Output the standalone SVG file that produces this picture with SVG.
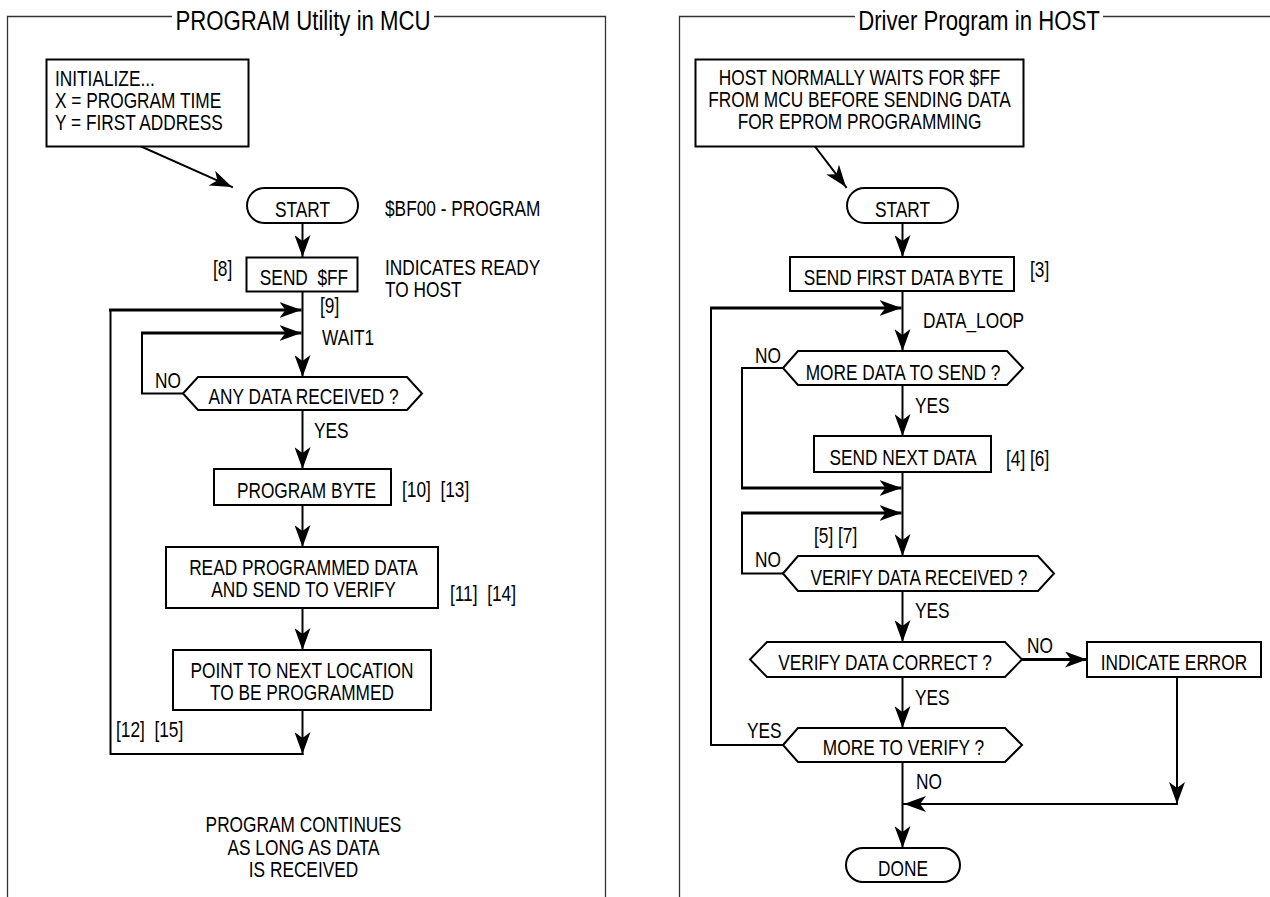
<svg xmlns="http://www.w3.org/2000/svg" width="1270" height="897" viewBox="0 0 1270 897">
<style>
text{font-family:"Liberation Sans",Arial,sans-serif;font-size:22px;fill:#000}
.t{font-size:28px;text-anchor:middle}
.c{text-anchor:middle}
.frame{fill:none;stroke:#333;stroke-width:1.3}
.box{fill:#fff;stroke:#000;stroke-width:2}
.ln{fill:none;stroke:#000;stroke-width:2;stroke-linecap:square}
.thk{stroke-width:3;stroke-linecap:butt}
</style>
<defs>
<marker id="ah" viewBox="0 0 22 16" refX="22" refY="8" markerWidth="22" markerHeight="16" markerUnits="userSpaceOnUse" orient="auto">
<path d="M22,8 L0,0 L6,8 L0,16 Z" fill="#000"/>
</marker>
</defs>
<rect width="1270" height="897" fill="#fff"/>

<g id="frame-left">
<path class="frame" d="M7.5,897 V16.5 H172 M434,16.5 H605.5 V897"/>
<text class="t" transform="translate(303,30) scale(.793,1)">PROGRAM Utility in MCU</text>
</g>
<g id="frame-right">
<path class="frame" d="M679.5,897 V16.5 H855 M1103,16.5 H1270"/>
<text class="t" transform="translate(979,30) scale(.793,1)">Driver Program in HOST</text>
</g>

<g id="connectors">
<path class="ln" d="M141,146.5 L232,187" marker-end="url(#ah)"/>
<path class="ln" d="M302.5,223 V257" marker-end="url(#ah)"/>
<path class="ln" d="M302.5,291 V377" marker-end="url(#ah)"/>
<path class="ln" d="M302.5,754 H110.5 V310"/>
<path class="ln thk" d="M109,310 H301.5" marker-end="url(#ah)"/>
<path class="ln" d="M183,393.5 H142 V333"/>
<path class="ln thk" d="M141,333 H301.5" marker-end="url(#ah)"/>
<path class="ln" d="M302.5,410 V469" marker-end="url(#ah)"/>
<path class="ln" d="M302.5,505 V547" marker-end="url(#ah)"/>
<path class="ln" d="M302.5,608 V650" marker-end="url(#ah)"/>
<path class="ln" d="M302.5,710 V754" marker-end="url(#ah)"/>

<path class="ln" d="M815,146.5 L846,187" marker-end="url(#ah)"/>
<path class="ln" d="M902.5,223 V257" marker-end="url(#ah)"/>
<path class="ln" d="M902.5,291 V351" marker-end="url(#ah)"/>
<path class="ln" d="M783,745 H711 V308"/>
<path class="ln thk" d="M710,308 H901.5" marker-end="url(#ah)"/>
<path class="ln" d="M783,368 H742 V488"/>
<path class="ln thk" d="M741,488 H901.5" marker-end="url(#ah)"/>
<path class="ln" d="M902.5,385 V436" marker-end="url(#ah)"/>
<path class="ln" d="M902.5,472 V556" marker-end="url(#ah)"/>
<path class="ln" d="M783,573.5 H742 V513"/>
<path class="ln thk" d="M741,513 H901.5" marker-end="url(#ah)"/>
<path class="ln" d="M902.5,591 V642" marker-end="url(#ah)"/>
<path class="ln thk" d="M1022,659.5 H1087" marker-end="url(#ah)"/>
<path class="ln" d="M902.5,677 V728" marker-end="url(#ah)"/>
<path class="ln" d="M902.5,762 V848" marker-end="url(#ah)"/>
<path class="ln" d="M1177,677 V804" marker-end="url(#ah)"/>
<path class="ln" d="M1177,804 H904" marker-end="url(#ah)"/>
</g>

<g id="l-init">
<rect class="box" x="46.5" y="59.5" width="202" height="87"/>
<text transform="translate(55,86) scale(.786,1)">INITIALIZE...</text>
<text transform="translate(55,108) scale(.786,1)">X = PROGRAM TIME</text>
<text transform="translate(55,130) scale(.786,1)">Y = FIRST ADDRESS</text>
</g>
<g id="l-start">
<rect class="box" x="247" y="188" width="111" height="35" rx="17.5"/>
<text class="c" transform="translate(302.5,217) scale(.786,1)">START</text>
<text transform="translate(385,216) scale(.786,1)">$BF00 - PROGRAM</text>
</g>
<g id="l-sendff">
<rect class="box" x="246.5" y="257.5" width="111" height="34"/>
<text class="c" transform="translate(304,285) scale(.786,1)" xml:space="preserve">SEND  $FF</text>
<text transform="translate(213,276) scale(.786,1)">[8]</text>
<text transform="translate(385,275) scale(.786,1)">INDICATES READY</text>
<text transform="translate(385,297) scale(.786,1)">TO HOST</text>
<text transform="translate(320,313) scale(.786,1)">[9]</text>
<text transform="translate(322,345) scale(.786,1)">WAIT1</text>
</g>
<g id="l-anydata">
<polygon class="box" points="183,393.5 198,377 407,377 422,393.5 407,410 198,410"/>
<text class="c" transform="translate(303.5,404) scale(.786,1)">ANY DATA RECEIVED ?</text>
<text transform="translate(155,388) scale(.786,1)">NO</text>
<text transform="translate(314,438) scale(.786,1)">YES</text>
</g>
<g id="l-progbyte">
<rect class="box" x="214" y="469" width="177" height="36"/>
<text class="c" transform="translate(306.5,498) scale(.786,1)">PROGRAM BYTE</text>
<text transform="translate(402,497) scale(.786,1)" xml:space="preserve">[10]  [13]</text>
</g>
<g id="l-read">
<rect class="box" x="166" y="547" width="272" height="61"/>
<text class="c" transform="translate(303.5,575) scale(.786,1)">READ PROGRAMMED DATA</text>
<text class="c" transform="translate(303.5,597) scale(.786,1)">AND SEND TO VERIFY</text>
<text transform="translate(450,601) scale(.786,1)" xml:space="preserve">[11]  [14]</text>
</g>
<g id="l-point">
<rect class="box" x="173" y="650" width="258" height="60"/>
<text class="c" transform="translate(302,678) scale(.786,1)">POINT TO NEXT LOCATION</text>
<text class="c" transform="translate(302,700) scale(.786,1)">TO BE PROGRAMMED</text>
<text transform="translate(116,737) scale(.786,1)" xml:space="preserve">[12]  [15]</text>
</g>
<g id="l-note">
<text class="c" transform="translate(303.5,832) scale(.786,1)">PROGRAM CONTINUES</text>
<text class="c" transform="translate(303.5,855) scale(.786,1)">AS LONG AS DATA</text>
<text class="c" transform="translate(303.5,877) scale(.786,1)">IS RECEIVED</text>
</g>

<g id="r-host">
<rect class="box" x="695.5" y="59.5" width="328" height="87"/>
<text class="c" transform="translate(859.5,85) scale(.786,1)">HOST NORMALLY WAITS FOR $FF</text>
<text class="c" transform="translate(859.5,107) scale(.786,1)">FROM MCU BEFORE SENDING DATA</text>
<text class="c" transform="translate(859.5,129) scale(.786,1)">FOR EPROM PROGRAMMING</text>
</g>
<g id="r-start">
<rect class="box" x="847" y="188" width="111" height="35" rx="17.5"/>
<text class="c" transform="translate(902.5,217) scale(.786,1)">START</text>
</g>
<g id="r-sendfirst">
<rect class="box" x="790" y="257" width="224" height="34"/>
<text class="c" transform="translate(903.5,285) scale(.786,1)">SEND FIRST DATA BYTE</text>
<text transform="translate(1030,277) scale(.786,1)">[3]</text>
<text transform="translate(923,328) scale(.786,1)">DATA_LOOP</text>
</g>
<g id="r-moredata">
<polygon class="box" points="783,368 798,351 1007,351 1023,368 1007,385 798,385"/>
<text class="c" transform="translate(903,380) scale(.786,1)">MORE DATA TO SEND ?</text>
<text transform="translate(755,363) scale(.786,1)">NO</text>
<text transform="translate(915,413) scale(.786,1)">YES</text>
</g>
<g id="r-sendnext">
<rect class="box" x="814" y="436" width="177" height="36"/>
<text class="c" transform="translate(903,465) scale(.786,1)">SEND NEXT DATA</text>
<text transform="translate(1006,466) scale(.786,1)">[4] [6]</text>
<text transform="translate(814,543) scale(.786,1)">[5] [7]</text>
</g>
<g id="r-vdr">
<polygon class="box" points="783,573.5 798,556 1038,556 1054,573.5 1038,591 798,591"/>
<text class="c" transform="translate(919,585) scale(.786,1)">VERIFY DATA RECEIVED ?</text>
<text transform="translate(755,567) scale(.786,1)">NO</text>
<text transform="translate(915,618) scale(.786,1)">YES</text>
</g>
<g id="r-vdc">
<polygon class="box" points="750,659.5 767,642 1005,642 1022,659.5 1005,677 767,677"/>
<text class="c" transform="translate(885,670) scale(.786,1)">VERIFY DATA CORRECT ?</text>
<text transform="translate(1027,653) scale(.786,1)">NO</text>
<text transform="translate(915,705) scale(.786,1)">YES</text>
</g>
<g id="r-error">
<rect class="box" x="1087" y="642" width="174" height="35"/>
<text class="c" transform="translate(1174,670) scale(.786,1)">INDICATE ERROR</text>
</g>
<g id="r-mtv">
<polygon class="box" points="783,745 798,728 1005,728 1022,745 1005,762 798,762"/>
<text class="c" transform="translate(903.5,755) scale(.786,1)">MORE TO VERIFY ?</text>
<text transform="translate(747,738) scale(.786,1)">YES</text>
<text transform="translate(916,789) scale(.786,1)">NO</text>
</g>
<g id="r-done">
<rect class="box" x="846" y="848" width="114" height="34" rx="17"/>
<text class="c" transform="translate(903,876) scale(.786,1)">DONE</text>
</g>
</svg>
